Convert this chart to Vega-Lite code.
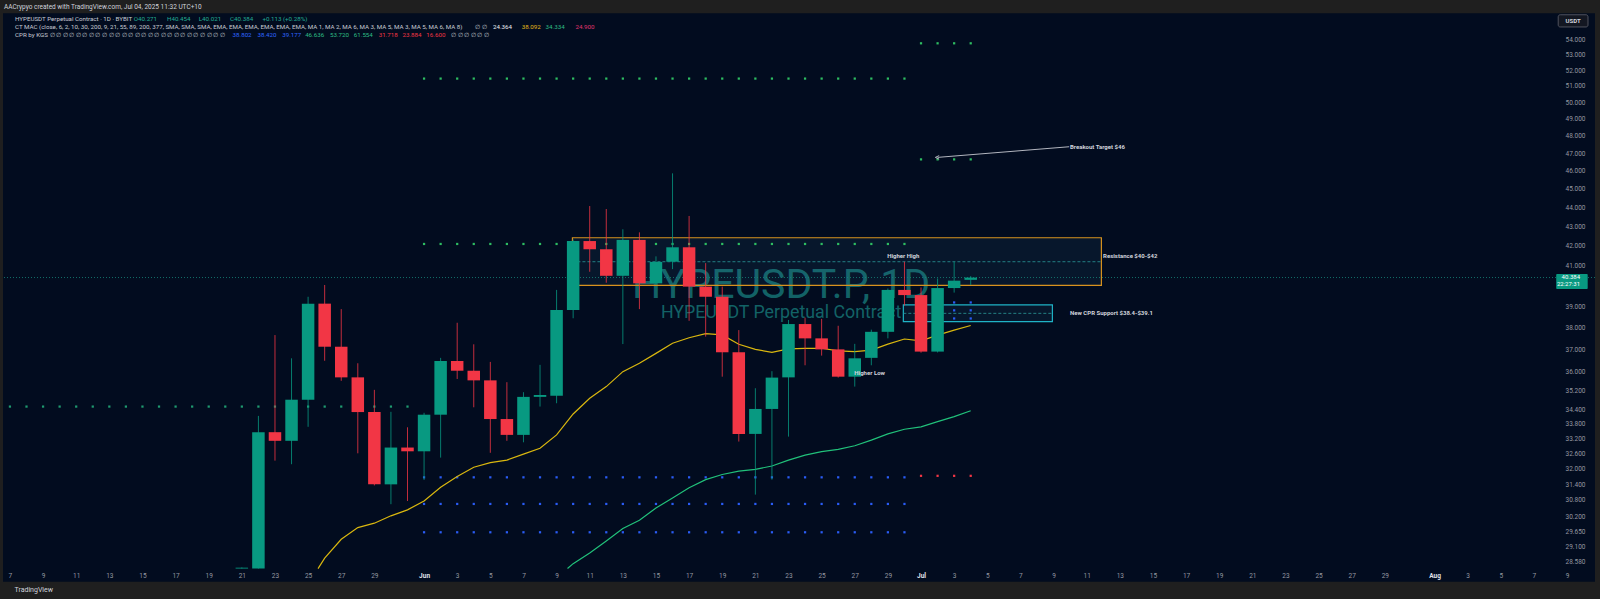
{
"$schema": "https://vega.github.io/schema/vega-lite/v6.json",
"width": 1592, "height": 568.4,
"autosize": {"type": "none"},
"padding": {"left": 3, "top": 13.3, "right": 5, "bottom": 17.3},
"background": "#1f1f1f",
"title": {"text": "AACrypyo created with TradingView.com, Jul 04, 2025 11:32 UTC+10", "anchor": "start", "frame": "group", "orient": "top", "fontSize": 6.5, "fontWeight": "normal", "color": "#d1d4dc", "font": "Roboto", "offset": -3, "baseline": "bottom", "dx": 1},
"config": {"view": {"fill": "#020c1f", "stroke": null}, "font": "Roboto"},
"datasets": {
"candles": [
{"d":"2025-05-21","o":28.33,"h":28.37,"l":28.33,"c":28.36},
{"d":"2025-05-22","o":28.33,"h":34.12,"l":28.33,"c":33.45},
{"d":"2025-05-23","o":33.45,"h":37.65,"l":32.31,"c":33.10},
{"d":"2025-05-24","o":33.10,"h":36.60,"l":32.17,"c":34.80},
{"d":"2025-05-25","o":34.80,"h":39.45,"l":33.67,"c":39.12},
{"d":"2025-05-26","o":39.12,"h":40.02,"l":36.49,"c":37.12},
{"d":"2025-05-27","o":37.12,"h":38.86,"l":35.61,"c":35.76},
{"d":"2025-05-28","o":35.76,"h":36.38,"l":32.60,"c":34.28},
{"d":"2025-05-29","o":34.28,"h":35.22,"l":31.35,"c":31.39},
{"d":"2025-05-30","o":31.39,"h":34.29,"l":30.64,"c":32.83},
{"d":"2025-05-31","o":32.83,"h":33.65,"l":30.76,"c":32.68},
{"d":"2025-06-01","o":32.68,"h":34.25,"l":31.56,"c":34.17},
{"d":"2025-06-02","o":34.17,"h":36.62,"l":32.43,"c":36.48},
{"d":"2025-06-03","o":36.48,"h":38.22,"l":35.69,"c":36.05},
{"d":"2025-06-04","o":36.05,"h":37.23,"l":34.48,"c":35.63},
{"d":"2025-06-05","o":35.63,"h":36.44,"l":32.62,"c":33.99},
{"d":"2025-06-06","o":33.99,"h":35.55,"l":33.10,"c":33.34},
{"d":"2025-06-07","o":33.34,"h":35.12,"l":33.04,"c":34.92},
{"d":"2025-06-08","o":34.92,"h":36.31,"l":34.51,"c":35.00},
{"d":"2025-06-09","o":34.97,"h":39.78,"l":34.65,"c":38.82},
{"d":"2025-06-10","o":38.82,"h":42.30,"l":38.43,"c":42.22},
{"d":"2025-06-11","o":42.22,"h":44.06,"l":40.67,"c":41.80},
{"d":"2025-06-12","o":41.80,"h":43.90,"l":40.13,"c":40.47},
{"d":"2025-06-13","o":40.47,"h":42.83,"l":37.24,"c":42.28},
{"d":"2025-06-14","o":42.28,"h":42.67,"l":38.86,"c":40.10},
{"d":"2025-06-15","o":40.10,"h":41.44,"l":40.05,"c":41.16},
{"d":"2025-06-16","o":41.17,"h":45.85,"l":40.80,"c":41.90},
{"d":"2025-06-17","o":41.90,"h":43.53,"l":38.31,"c":39.94},
{"d":"2025-06-18","o":39.94,"h":41.10,"l":37.58,"c":39.45},
{"d":"2025-06-19","o":39.45,"h":39.94,"l":35.79,"c":36.87},
{"d":"2025-06-20","o":36.87,"h":37.88,"l":33.07,"c":33.38},
{"d":"2025-06-21","o":33.38,"h":35.29,"l":31.00,"c":34.41},
{"d":"2025-06-22","o":34.41,"h":36.03,"l":31.57,"c":35.75},
{"d":"2025-06-23","o":35.76,"h":38.35,"l":33.27,"c":38.16},
{"d":"2025-06-24","o":38.16,"h":38.46,"l":36.29,"c":37.50},
{"d":"2025-06-25","o":37.50,"h":38.40,"l":36.72,"c":37.00},
{"d":"2025-06-26","o":37.00,"h":38.08,"l":35.75,"c":35.79},
{"d":"2025-06-27","o":35.79,"h":37.25,"l":35.36,"c":36.60},
{"d":"2025-06-28","o":36.62,"h":37.90,"l":36.29,"c":37.80},
{"d":"2025-06-29","o":37.80,"h":39.85,"l":37.50,"c":39.78},
{"d":"2025-06-30","o":39.78,"h":41.17,"l":39.03,"c":39.53},
{"d":"2025-07-01","o":39.53,"h":39.90,"l":36.85,"c":36.90},
{"d":"2025-07-02","o":36.90,"h":40.34,"l":36.86,"c":39.87},
{"d":"2025-07-03","o":39.87,"h":41.17,"l":39.65,"c":40.23},
{"d":"2025-07-04","o":40.271,"h":40.454,"l":40.021,"c":40.384}
],
"ema": [
{"d":"2025-05-25T14:24:00Z","v":28.33,"s":"e21"},
{"d":"2025-05-26","v":28.69,"s":"e21"},{"d":"2025-05-27","v":29.36,"s":"e21"},{"d":"2025-05-28","v":29.78,"s":"e21"},{"d":"2025-05-29","v":29.94,"s":"e21"},{"d":"2025-05-30","v":30.21,"s":"e21"},{"d":"2025-05-31","v":30.43,"s":"e21"},
{"d":"2025-06-01","v":30.76,"s":"e21"},{"d":"2025-06-02","v":31.28,"s":"e21"},{"d":"2025-06-03","v":31.69,"s":"e21"},{"d":"2025-06-04","v":32.05,"s":"e21"},{"d":"2025-06-05","v":32.23,"s":"e21"},{"d":"2025-06-06","v":32.33,"s":"e21"},{"d":"2025-06-07","v":32.57,"s":"e21"},{"d":"2025-06-08","v":32.80,"s":"e21"},{"d":"2025-06-09","v":33.34,"s":"e21"},{"d":"2025-06-10","v":34.20,"s":"e21"},
{"d":"2025-06-11","v":34.86,"s":"e21"},{"d":"2025-06-12","v":35.36,"s":"e21"},{"d":"2025-06-13","v":36.01,"s":"e21"},{"d":"2025-06-14","v":36.38,"s":"e21"},{"d":"2025-06-15","v":36.82,"s":"e21"},{"d":"2025-06-16","v":37.28,"s":"e21"},{"d":"2025-06-17","v":37.53,"s":"e21"},{"d":"2025-06-18","v":37.72,"s":"e21"},{"d":"2025-06-19","v":37.66,"s":"e21"},{"d":"2025-06-20","v":37.23,"s":"e21"},
{"d":"2025-06-21","v":37.00,"s":"e21"},{"d":"2025-06-22","v":36.87,"s":"e21"},{"d":"2025-06-23","v":37.02,"s":"e21"},{"d":"2025-06-24","v":37.05,"s":"e21"},{"d":"2025-06-25","v":37.05,"s":"e21"},{"d":"2025-06-26","v":36.93,"s":"e21"},{"d":"2025-06-27","v":36.90,"s":"e21"},{"d":"2025-06-28","v":36.97,"s":"e21"},{"d":"2025-06-29","v":37.24,"s":"e21"},{"d":"2025-06-30","v":37.47,"s":"e21"},
{"d":"2025-07-01","v":37.39,"s":"e21"},{"d":"2025-07-02","v":37.65,"s":"e21"},{"d":"2025-07-03","v":37.88,"s":"e21"},{"d":"2025-07-04","v":38.092,"s":"e21"},
{"d":"2025-06-09T15:50:00Z","v":28.33,"s":"e55"},
{"d":"2025-06-10","v":28.50,"s":"e55"},{"d":"2025-06-11","v":28.87,"s":"e55"},{"d":"2025-06-12","v":29.30,"s":"e55"},{"d":"2025-06-13","v":29.75,"s":"e55"},{"d":"2025-06-14","v":30.05,"s":"e55"},{"d":"2025-06-15","v":30.50,"s":"e55"},{"d":"2025-06-16","v":30.87,"s":"e55"},{"d":"2025-06-17","v":31.26,"s":"e55"},{"d":"2025-06-18","v":31.57,"s":"e55"},{"d":"2025-06-19","v":31.77,"s":"e55"},{"d":"2025-06-20","v":31.90,"s":"e55"},
{"d":"2025-06-21","v":31.97,"s":"e55"},{"d":"2025-06-22","v":32.10,"s":"e55"},{"d":"2025-06-23","v":32.33,"s":"e55"},{"d":"2025-06-24","v":32.53,"s":"e55"},{"d":"2025-06-25","v":32.67,"s":"e55"},{"d":"2025-06-26","v":32.76,"s":"e55"},{"d":"2025-06-27","v":32.90,"s":"e55"},{"d":"2025-06-28","v":33.13,"s":"e55"},{"d":"2025-06-29","v":33.38,"s":"e55"},{"d":"2025-06-30","v":33.57,"s":"e55"},
{"d":"2025-07-01","v":33.67,"s":"e55"},{"d":"2025-07-02","v":33.88,"s":"e55"},{"d":"2025-07-03","v":34.09,"s":"e55"},{"d":"2025-07-04","v":34.334,"s":"e55"}
],
"cpr": [
{"d":"2025-05-07","v":34.51,"k":"m"},{"d":"2025-05-08","v":34.51,"k":"m"},{"d":"2025-05-09","v":34.51,"k":"m"},{"d":"2025-05-10","v":34.51,"k":"m"},{"d":"2025-05-11","v":34.51,"k":"m"},{"d":"2025-05-12","v":34.51,"k":"m"},{"d":"2025-05-13","v":34.51,"k":"m"},{"d":"2025-05-14","v":34.51,"k":"m"},{"d":"2025-05-15","v":34.51,"k":"m"},{"d":"2025-05-16","v":34.51,"k":"m"},{"d":"2025-05-17","v":34.51,"k":"m"},{"d":"2025-05-18","v":34.51,"k":"m"},{"d":"2025-05-19","v":34.51,"k":"m"},{"d":"2025-05-20","v":34.51,"k":"m"},{"d":"2025-05-21","v":34.51,"k":"m"},{"d":"2025-05-22","v":34.51,"k":"m"},{"d":"2025-05-23","v":34.51,"k":"m"},{"d":"2025-05-24","v":34.51,"k":"m"},{"d":"2025-05-25","v":34.51,"k":"m"},{"d":"2025-05-26","v":34.51,"k":"m"},{"d":"2025-05-27","v":34.51,"k":"m"},{"d":"2025-05-28","v":34.51,"k":"m"},{"d":"2025-05-29","v":34.51,"k":"m"},{"d":"2025-05-30","v":34.51,"k":"m"},{"d":"2025-05-31","v":34.51,"k":"m"},
{"d":"2025-06-01","v":51.46,"k":"g"},{"d":"2025-06-01","v":42.07,"k":"g"},{"d":"2025-06-01","v":31.66,"k":"b"},{"d":"2025-06-01","v":30.65,"k":"b"},{"d":"2025-06-01","v":29.61,"k":"b"},
{"d":"2025-06-02","v":51.46,"k":"g"},{"d":"2025-06-02","v":42.07,"k":"g"},{"d":"2025-06-02","v":31.66,"k":"b"},{"d":"2025-06-02","v":30.65,"k":"b"},{"d":"2025-06-02","v":29.61,"k":"b"},
{"d":"2025-06-03","v":51.46,"k":"g"},{"d":"2025-06-03","v":42.07,"k":"g"},{"d":"2025-06-03","v":31.66,"k":"b"},{"d":"2025-06-03","v":30.65,"k":"b"},{"d":"2025-06-03","v":29.61,"k":"b"},
{"d":"2025-06-04","v":51.46,"k":"g"},{"d":"2025-06-04","v":42.07,"k":"g"},{"d":"2025-06-04","v":31.66,"k":"b"},{"d":"2025-06-04","v":30.65,"k":"b"},{"d":"2025-06-04","v":29.61,"k":"b"},
{"d":"2025-06-05","v":51.46,"k":"g"},{"d":"2025-06-05","v":42.07,"k":"g"},{"d":"2025-06-05","v":31.66,"k":"b"},{"d":"2025-06-05","v":30.65,"k":"b"},{"d":"2025-06-05","v":29.61,"k":"b"},
{"d":"2025-06-06","v":51.46,"k":"g"},{"d":"2025-06-06","v":42.07,"k":"g"},{"d":"2025-06-06","v":31.66,"k":"b"},{"d":"2025-06-06","v":30.65,"k":"b"},{"d":"2025-06-06","v":29.61,"k":"b"},
{"d":"2025-06-07","v":51.46,"k":"g"},{"d":"2025-06-07","v":42.07,"k":"g"},{"d":"2025-06-07","v":31.66,"k":"b"},{"d":"2025-06-07","v":30.65,"k":"b"},{"d":"2025-06-07","v":29.61,"k":"b"},
{"d":"2025-06-08","v":51.46,"k":"g"},{"d":"2025-06-08","v":42.07,"k":"g"},{"d":"2025-06-08","v":31.66,"k":"b"},{"d":"2025-06-08","v":30.65,"k":"b"},{"d":"2025-06-08","v":29.61,"k":"b"},
{"d":"2025-06-09","v":51.46,"k":"g"},{"d":"2025-06-09","v":42.07,"k":"g"},{"d":"2025-06-09","v":31.66,"k":"b"},{"d":"2025-06-09","v":30.65,"k":"b"},{"d":"2025-06-09","v":29.61,"k":"b"},
{"d":"2025-06-10","v":51.46,"k":"g"},{"d":"2025-06-10","v":42.07,"k":"g"},{"d":"2025-06-10","v":31.66,"k":"b"},{"d":"2025-06-10","v":30.65,"k":"b"},{"d":"2025-06-10","v":29.61,"k":"b"},
{"d":"2025-06-11","v":51.46,"k":"g"},{"d":"2025-06-11","v":42.07,"k":"g"},{"d":"2025-06-11","v":31.66,"k":"b"},{"d":"2025-06-11","v":30.65,"k":"b"},{"d":"2025-06-11","v":29.61,"k":"b"},
{"d":"2025-06-12","v":51.46,"k":"g"},{"d":"2025-06-12","v":42.07,"k":"g"},{"d":"2025-06-12","v":31.66,"k":"b"},{"d":"2025-06-12","v":30.65,"k":"b"},{"d":"2025-06-12","v":29.61,"k":"b"},
{"d":"2025-06-13","v":51.46,"k":"g"},{"d":"2025-06-13","v":42.07,"k":"g"},{"d":"2025-06-13","v":31.66,"k":"b"},{"d":"2025-06-13","v":30.65,"k":"b"},{"d":"2025-06-13","v":29.61,"k":"b"},
{"d":"2025-06-14","v":51.46,"k":"g"},{"d":"2025-06-14","v":42.07,"k":"g"},{"d":"2025-06-14","v":31.66,"k":"b"},{"d":"2025-06-14","v":30.65,"k":"b"},{"d":"2025-06-14","v":29.61,"k":"b"},
{"d":"2025-06-15","v":51.46,"k":"g"},{"d":"2025-06-15","v":42.07,"k":"g"},{"d":"2025-06-15","v":31.66,"k":"b"},{"d":"2025-06-15","v":30.65,"k":"b"},{"d":"2025-06-15","v":29.61,"k":"b"},
{"d":"2025-06-16","v":51.46,"k":"g"},{"d":"2025-06-16","v":42.07,"k":"g"},{"d":"2025-06-16","v":31.66,"k":"b"},{"d":"2025-06-16","v":30.65,"k":"b"},{"d":"2025-06-16","v":29.61,"k":"b"},
{"d":"2025-06-17","v":51.46,"k":"g"},{"d":"2025-06-17","v":42.07,"k":"g"},{"d":"2025-06-17","v":31.66,"k":"b"},{"d":"2025-06-17","v":30.65,"k":"b"},{"d":"2025-06-17","v":29.61,"k":"b"},
{"d":"2025-06-18","v":51.46,"k":"g"},{"d":"2025-06-18","v":42.07,"k":"g"},{"d":"2025-06-18","v":31.66,"k":"b"},{"d":"2025-06-18","v":30.65,"k":"b"},{"d":"2025-06-18","v":29.61,"k":"b"},
{"d":"2025-06-19","v":51.46,"k":"g"},{"d":"2025-06-19","v":42.07,"k":"g"},{"d":"2025-06-19","v":31.66,"k":"b"},{"d":"2025-06-19","v":30.65,"k":"b"},{"d":"2025-06-19","v":29.61,"k":"b"},
{"d":"2025-06-20","v":51.46,"k":"g"},{"d":"2025-06-20","v":42.07,"k":"g"},{"d":"2025-06-20","v":31.66,"k":"b"},{"d":"2025-06-20","v":30.65,"k":"b"},{"d":"2025-06-20","v":29.61,"k":"b"},
{"d":"2025-06-21","v":51.46,"k":"g"},{"d":"2025-06-21","v":42.07,"k":"g"},{"d":"2025-06-21","v":31.66,"k":"b"},{"d":"2025-06-21","v":30.65,"k":"b"},{"d":"2025-06-21","v":29.61,"k":"b"},
{"d":"2025-06-22","v":51.46,"k":"g"},{"d":"2025-06-22","v":42.07,"k":"g"},{"d":"2025-06-22","v":31.66,"k":"b"},{"d":"2025-06-22","v":30.65,"k":"b"},{"d":"2025-06-22","v":29.61,"k":"b"},
{"d":"2025-06-23","v":51.46,"k":"g"},{"d":"2025-06-23","v":42.07,"k":"g"},{"d":"2025-06-23","v":31.66,"k":"b"},{"d":"2025-06-23","v":30.65,"k":"b"},{"d":"2025-06-23","v":29.61,"k":"b"},
{"d":"2025-06-24","v":51.46,"k":"g"},{"d":"2025-06-24","v":42.07,"k":"g"},{"d":"2025-06-24","v":31.66,"k":"b"},{"d":"2025-06-24","v":30.65,"k":"b"},{"d":"2025-06-24","v":29.61,"k":"b"},
{"d":"2025-06-25","v":51.46,"k":"g"},{"d":"2025-06-25","v":42.07,"k":"g"},{"d":"2025-06-25","v":31.66,"k":"b"},{"d":"2025-06-25","v":30.65,"k":"b"},{"d":"2025-06-25","v":29.61,"k":"b"},
{"d":"2025-06-26","v":51.46,"k":"g"},{"d":"2025-06-26","v":42.07,"k":"g"},{"d":"2025-06-26","v":31.66,"k":"b"},{"d":"2025-06-26","v":30.65,"k":"b"},{"d":"2025-06-26","v":29.61,"k":"b"},
{"d":"2025-06-27","v":51.46,"k":"g"},{"d":"2025-06-27","v":42.07,"k":"g"},{"d":"2025-06-27","v":31.66,"k":"b"},{"d":"2025-06-27","v":30.65,"k":"b"},{"d":"2025-06-27","v":29.61,"k":"b"},
{"d":"2025-06-28","v":51.46,"k":"g"},{"d":"2025-06-28","v":42.07,"k":"g"},{"d":"2025-06-28","v":31.66,"k":"b"},{"d":"2025-06-28","v":30.65,"k":"b"},{"d":"2025-06-28","v":29.61,"k":"b"},
{"d":"2025-06-29","v":51.46,"k":"g"},{"d":"2025-06-29","v":42.07,"k":"g"},{"d":"2025-06-29","v":31.66,"k":"b"},{"d":"2025-06-29","v":30.65,"k":"b"},{"d":"2025-06-29","v":29.61,"k":"b"},
{"d":"2025-06-30","v":51.46,"k":"g"},{"d":"2025-06-30","v":42.07,"k":"g"},{"d":"2025-06-30","v":31.66,"k":"b"},{"d":"2025-06-30","v":30.65,"k":"b"},{"d":"2025-06-30","v":29.61,"k":"b"},
{"d":"2025-07-01","v":53.72,"k":"g"},{"d":"2025-07-01","v":46.636,"k":"g"},{"d":"2025-07-01","v":39.177,"k":"b"},{"d":"2025-07-01","v":38.802,"k":"b"},{"d":"2025-07-01","v":38.42,"k":"b"},{"d":"2025-07-01","v":31.718,"k":"r"},
{"d":"2025-07-02","v":53.72,"k":"g"},{"d":"2025-07-02","v":46.636,"k":"g"},{"d":"2025-07-02","v":39.177,"k":"b"},{"d":"2025-07-02","v":38.802,"k":"b"},{"d":"2025-07-02","v":38.42,"k":"b"},{"d":"2025-07-02","v":31.718,"k":"r"},
{"d":"2025-07-03","v":53.72,"k":"g"},{"d":"2025-07-03","v":46.636,"k":"g"},{"d":"2025-07-03","v":39.177,"k":"b"},{"d":"2025-07-03","v":38.802,"k":"b"},{"d":"2025-07-03","v":38.42,"k":"b"},{"d":"2025-07-03","v":31.718,"k":"r"},
{"d":"2025-07-04","v":53.72,"k":"g"},{"d":"2025-07-04","v":46.636,"k":"g"},{"d":"2025-07-04","v":39.177,"k":"b"},{"d":"2025-07-04","v":38.802,"k":"b"},{"d":"2025-07-04","v":38.42,"k":"b"},{"d":"2025-07-04","v":31.718,"k":"r"}
],
"legend": [
{"d":"2025-05-07T07:16:00Z","v":55.32,"t":"HYPEUSDT Perpetual Contract · 1D · BYBIT","k":"w"},
{"d":"2025-05-14T11:27:00Z","v":55.32,"t":"O40.271","k":"gv"},
{"d":"2025-05-16T11:33:00Z","v":55.32,"t":"H40.454","k":"gv"},
{"d":"2025-05-18T09:37:00Z","v":55.32,"t":"L40.021","k":"gv"},
{"d":"2025-05-20T06:58:00Z","v":55.32,"t":"C40.384","k":"gv"},
{"d":"2025-05-22T05:46:00Z","v":55.32,"t":"+0.113 (+0.28%)","k":"gv"},
{"d":"2025-05-07T07:16:00Z","v":54.79,"t":"CT MAC (close, 6, 2, 10, 30, 200, 9, 21, 55, 89, 200, 377, SMA, SMA, SMA, EMA, EMA, EMA, EMA, EMA, EMA, MA 1, MA 2, MA 6, MA 3, MA 5, MA 3, MA 5, MA 6, MA 8)","k":"w"},
{"d":"2025-06-04T01:51:00Z","v":54.79,"t":"∅ ∅","k":"w"},
{"d":"2025-06-05T03:46:00Z","v":54.79,"t":"24.364","k":"wb"},
{"d":"2025-06-06T21:32:00Z","v":54.79,"t":"38.092","k":"y"},
{"d":"2025-06-08T08:05:00Z","v":54.79,"t":"34.334","k":"g"},
{"d":"2025-06-10T03:16:00Z","v":54.79,"t":"24.900","k":"pk"},
{"d":"2025-05-07T07:16:00Z","v":54.27,"t":"CPR by KGS","k":"w"},
{"d":"2025-05-09T09:36:00Z","v":54.27,"t":"∅ ∅ ∅ ∅ ∅ ∅ ∅ ∅ ∅ ∅ ∅ ∅ ∅ ∅ ∅ ∅ ∅ ∅ ∅ ∅ ∅ ∅ ∅ ∅ ∅ ∅ ∅","k":"w"},
{"d":"2025-05-20T10:34:00Z","v":54.27,"t":"38.802","k":"b"},
{"d":"2025-05-21T22:34:00Z","v":54.27,"t":"38.420","k":"b"},
{"d":"2025-05-23T10:34:00Z","v":54.27,"t":"39.177","k":"b"},
{"d":"2025-05-24T19:41:00Z","v":54.27,"t":"46.636","k":"g"},
{"d":"2025-05-26T07:39:00Z","v":54.27,"t":"53.720","k":"g"},
{"d":"2025-05-27T18:13:00Z","v":54.27,"t":"61.554","k":"g"},
{"d":"2025-05-29T06:13:00Z","v":54.27,"t":"31.718","k":"r"},
{"d":"2025-05-30T16:45:00Z","v":54.27,"t":"23.884","k":"r"},
{"d":"2025-06-01T03:19:00Z","v":54.27,"t":"16.600","k":"r"},
{"d":"2025-06-02T15:19:00Z","v":54.27,"t":"∅ ∅ ∅ ∅ ∅ ∅","k":"w"}
]
},
"layer": [
{"data": {"values": [{"d":"2025-06-22T13:18:00Z","v":39.95,"t":"HYPEUSDT.P, 1D"}]},
 "mark": {"type":"text","fontSize":41,"color":"#1e9c96","opacity":0.6,"align":"center","baseline":"middle"},
 "encoding": {"x":{"field":"d","type":"temporal"},"y":{"field":"v","type":"quantitative"},"text":{"field":"t"}}},
{"data": {"values": [{"d":"2025-06-22T13:18:00Z","v":38.68,"t":"HYPEUSDT Perpetual Contract"}]},
 "mark": {"type":"text","fontSize":17.8,"color":"#1e9c96","opacity":0.6,"align":"center","baseline":"middle"},
 "encoding": {"x":{"field":"d","type":"temporal"},"y":{"field":"v","type":"quantitative"},"text":{"field":"t"}}},
{"data": {"values": [
  {"d":"2025-06-09T22:57:00Z","d2":"2025-07-11T21:19:00Z","v":40.00,"v2":42.39,"k":"res"},
  {"d":"2025-06-29T22:22:00Z","d2":"2025-07-08T22:19:00Z","v":38.27,"v2":39.06,"k":"sup"}]},
 "mark": {"type":"rect","fill":"#3a7fa8","fillOpacity":0.1,"strokeWidth":1.2},
 "encoding": {"x":{"field":"d","type":"temporal"},"x2":{"field":"d2"},"y":{"field":"v","type":"quantitative"},"y2":{"field":"v2"},
   "stroke":{"field":"k","type":"nominal","scale":{"domain":["res","sup"],"range":["#d8921e","#1fb3c6"]},"legend":null}}},
{"data": {"values": [
  {"d":"2025-06-09T22:57:00Z","d2":"2025-07-11T21:19:00Z","v":41.17},
  {"d":"2025-06-29T22:22:00Z","d2":"2025-07-08T22:19:00Z","v":38.66}]},
 "mark": {"type":"rule","color":"#2a9a9a","strokeWidth":1,"strokeDash":[3,2],"opacity":0.8},
 "encoding": {"x":{"field":"d","type":"temporal"},"x2":{"field":"d2"},"y":{"field":"v","type":"quantitative"}}},
{"data": {"values": [{"v":40.384}]},
 "mark": {"type":"rule","color":"#17877a","strokeWidth":1,"strokeDash":[1,2],"opacity":0.8},
 "encoding": {"y":{"field":"v","type":"quantitative"}}},
{"data": {"name":"cpr"},
 "mark": {"type":"point","shape":"square","filled":true,"size":5,"opacity":1},
 "encoding": {"x":{"field":"d","type":"temporal"},"y":{"field":"v","type":"quantitative"},
   "color":{"field":"k","type":"nominal","scale":{"domain":["g","b","r","m"],"range":["#2ebd62","#2a5cf5","#f23645","#1f9a70"]},"legend":null}}},
{"data": {"name":"ema"},
 "mark": {"type":"line","strokeWidth":1.2,"clip":true},
 "encoding": {"x":{"field":"d","type":"temporal"},"y":{"field":"v","type":"quantitative"},
   "color":{"field":"s","type":"nominal","scale":{"domain":["e21","e55"],"range":["#d9b70f","#21c17a"]},"legend":null}}},
{"data": {"name":"candles"},
 "mark": {"type":"rule","strokeWidth":1,"opacity":0.8},
 "encoding": {"x":{"field":"d","type":"temporal"},"y":{"field":"l","type":"quantitative"},"y2":{"field":"h"},
   "color":{"condition":{"test":"datum.c >= datum.o","value":"#089981"},"value":"#f23645"}}},
{"data": {"name":"candles"},
 "mark": {"type":"bar","width":12.5},
 "encoding": {
   "x":{"field":"d","type":"temporal",
     "scale":{"type":"utc","domain":[{"year":2025,"month":5,"date":6,"hours":21,"minutes":12,"utc":true},{"year":2025,"month":8,"date":10,"hours":9,"minutes":14,"utc":true}]},
     "axis":{"orient":"bottom","offset":-6,"domain":false,"ticks":false,"tickSize":0,"grid":false,"labelPadding":0,"labelBaseline":"middle","labelFontSize":6.5,"labelFont":"Roboto",
       "labelColor":{"condition":{"test":"utcdate(datum.value) == 1","value":"#e0e3eb"},"value":"#9598a1"},
       "labelFontWeight":{"condition":{"test":"utcdate(datum.value) == 1","value":"bold"},"value":"normal"},
       "tickCount":{"interval":"day","step":2},
       "labelExpr":"utcdate(datum.value) == 31 ? '' : (utcdate(datum.value) == 1 ? utcFormat(datum.value, '%b') : '' + utcdate(datum.value))",
       "labelOverlap":false,"labelFlush":false,"labelBound":false,
       "title":"TradingView","titleAnchor":"start","titleAlign":"left","titleBaseline":"middle","titleX":11,"titleY":14,"titleFontSize":7,"titleFontWeight":"normal","titleColor":"#d1d4dc","titleFont":"Roboto"}},
   "y":{"field":"o","type":"quantitative",
     "scale":{"type":"log","domain":[27.88,55.72],"nice":false,"zero":false},
     "axis":{"orient":"right","offset":-10,"values":[28.58,29.1,29.65,30.2,30.8,31.4,32,32.6,33.2,33.8,34.4,35.2,36,37,38,39,41,42,43,44,45,46,47,48,49,50,51,52,53,54],
       "format":".3f","domain":false,"ticks":false,"tickSize":0,"grid":false,"labelAlign":"right","labelPadding":0,"labelBaseline":"middle","labelFontSize":6.5,"labelFont":"Roboto","labelColor":"#9598a1","labelOverlap":false,"labelBound":false,"labelFlush":false,"title":null}},
   "y2":{"field":"c"},
   "color":{"condition":{"test":"datum.c >= datum.o","value":"#089981"},"value":"#f23645"}}},
{"data": {"values": [
  {"d":"2025-06-29T22:22:00Z","v":41.45,"t":"Higher High"},
  {"d":"2025-06-27T21:36:00Z","v":35.94,"t":"Higher Low"}]},
 "mark": {"type":"text","fontSize":6,"fontWeight":"bold","color":"#d1d4dc","align":"center","baseline":"middle"},
 "encoding": {"x":{"field":"d","type":"temporal"},"y":{"field":"v","type":"quantitative"},"text":{"field":"t"}}},
{"data": {"values": [
  {"d":"2025-07-09T23:49:00Z","v":47.36,"t":"Breakout Target $46"},
  {"d":"2025-07-11T23:46:00Z","v":41.47,"t":"Resistance $40-$42"},
  {"d":"2025-07-09T23:49:00Z","v":38.69,"t":"New CPR Support $38.4-$39.1"}]},
 "mark": {"type":"text","fontSize":6,"fontWeight":"bold","color":"#d1d4dc","align":"left","baseline":"middle"},
 "encoding": {"x":{"field":"d","type":"temporal"},"y":{"field":"v","type":"quantitative"},"text":{"field":"t"}}},
{"data": {"values": [{"d":"2025-07-09T22:40:00Z","v":47.36,"d2":"2025-07-02T00:00:00Z","v2":46.75}]},
 "mark": {"type":"rule","color":"#b2b5be","strokeWidth":1},
 "encoding": {"x":{"field":"d","type":"temporal"},"y":{"field":"v","type":"quantitative"},"x2":{"field":"d2"},"y2":{"field":"v2"}}},
{"data": {"values": [{"d":"2025-07-02T00:00:00Z","v":46.75}]},
 "mark": {"type":"point","shape":"M -1 0 L 0.7 -0.8 M -1 0 L 0.7 0.8","filled":false,"size":20,"color":"#b2b5be","strokeWidth":1,"opacity":1},
 "encoding": {"x":{"field":"d","type":"temporal"},"y":{"field":"v","type":"quantitative"}}},
{"data": {"name":"legend"},
 "mark": {"type":"text","fontSize":6.2,"align":"left","baseline":"middle"},
 "encoding": {"x":{"field":"d","type":"temporal"},"y":{"field":"v","type":"quantitative"},"text":{"field":"t"},
   "color":{"field":"k","type":"nominal","scale":{"domain":["w","gv","wb","y","g","pk","b","r"],"range":["#c8cbd3","#22ab94","#eceef2","#e5b81a","#2ebd85","#e0356f","#2f66ff","#f23645"]},"legend":null}}},
{"data": {"values": [{"d":"2025-08-08T08:17:00Z","d2":"2025-08-10T05:54:00Z","v":39.82,"v2":40.56}]},
 "mark": {"type":"rect","fill":"#089981","cornerRadius":1},
 "encoding": {"x":{"field":"d","type":"temporal"},"x2":{"field":"d2"},"y":{"field":"v","type":"quantitative"},"y2":{"field":"v2"}}},
{"data": {"values": [{"d":"2025-08-09T18:50:00Z","v":40.42,"t":"40.384"},{"d":"2025-08-09T18:50:00Z","v":40.05,"t":"22:27:31"}]},
 "mark": {"type":"text","fontSize":6,"color":"#ffffff","align":"right","baseline":"middle"},
 "encoding": {"x":{"field":"d","type":"temporal"},"y":{"field":"v","type":"quantitative"},"text":{"field":"t"}}},
{"data": {"values": [{"d":"2025-08-08T11:10:00Z","d2":"2025-08-10T06:20:00Z","v":54.80,"v2":55.62}]},
 "mark": {"type":"rect","fill":"#131722","stroke":"#50535e","strokeWidth":1,"cornerRadius":2},
 "encoding": {"x":{"field":"d","type":"temporal"},"x2":{"field":"d2"},"y":{"field":"v","type":"quantitative"},"y2":{"field":"v2"}}},
{"data": {"values": [{"d":"2025-08-09T08:46:00Z","v":55.20,"t":"USDT"}]},
 "mark": {"type":"text","fontSize":6,"fontWeight":"bold","color":"#d1d4dc","align":"center","baseline":"middle"},
 "encoding": {"x":{"field":"d","type":"temporal"},"y":{"field":"v","type":"quantitative"},"text":{"field":"t"}}}
],
"resolve": {"scale": {"color": "independent", "stroke": "independent"}}
}
